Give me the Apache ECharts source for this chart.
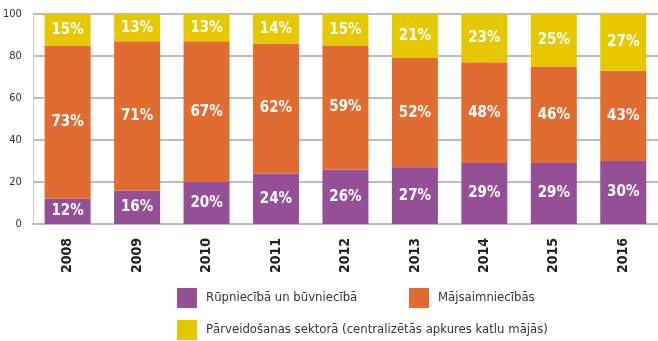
<!DOCTYPE html>
<html>
<head>
<meta charset="utf-8">
<script src="https://cdn.jsdelivr.net/npm/echarts@6/dist/echarts.min.js"></script>
<style>
  html, body { margin: 0; padding: 0; background: #fff; }
  #chart { width: 658px; height: 341px; }
</style>
</head>
<body>
<div id="chart"></div>
<script>
// Shares of consumption by sector, percent per year
const years = ['2008', '2009', '2010', '2011', '2012', '2013', '2014', '2015', '2016'];
const industry = [12, 16, 20, 24, 26, 27, 29, 29, 30];
const households = [73, 71, 67, 62, 59, 52, 48, 46, 43];
const transformation = [15, 13, 13, 14, 15, 21, 23, 25, 27];
const yTicks = [0, 20, 40, 60, 80, 100];

const names = [
  'Rūpniecībā un būvniecībā',
  'Mājsaimniecībās',
  'Pārveidošanas sektorā (centralizētās apkures katlu mājās)'
];
const colors = ['#944f97', '#e06c31', '#e6c800'];

const FONT = '"DejaVu Sans Condensed", "Liberation Sans Narrow", sans-serif';
const GRID = '#bcbcbc';

function series(name, data, color) {
  return {
    name: name,
    type: 'bar',
    stack: 'total',
    data: data,
    barWidth: 46,
    itemStyle: { color: color },
    label: {
      show: true,
      position: 'inside',
      formatter: '{c}%',
      color: '#fff',
      fontFamily: FONT,
      fontWeight: 'bold',
      fontSize: 15
    },
    emphasis: { disabled: true }
  };
}

function legendAt(name, left, top) {
  return {
    data: [name],
    left: left,
    top: top,
    padding: 0,
    icon: 'rect',
    itemWidth: 20,
    itemHeight: 20,
    selectedMode: false,
    textStyle: {
      fontFamily: FONT,
      fontSize: 13,
      color: '#333',
      padding: [0, 0, 0, 4]
    }
  };
}

const chart = echarts.init(document.getElementById('chart'), null, { renderer: 'canvas' });
chart.setOption({
  animation: false,
  backgroundColor: '#fff',
  grid: { left: 32, top: 14, width: 630, height: 210, containLabel: false },
  legend: [
    legendAt(names[0], 177, 288),
    legendAt(names[1], 409, 288),
    legendAt(names[2], 177, 320)
  ],
  xAxis: {
    type: 'category',
    data: years,
    axisLine: { show: true, lineStyle: { color: GRID, width: 2 } },
    axisTick: { show: false },
    axisLabel: {
      rotate: 90,
      margin: 14,
      color: '#222',
      fontFamily: FONT,
      fontWeight: 'bold',
      fontSize: 14
    }
  },
  yAxis: {
    type: 'value',
    min: yTicks[0],
    max: yTicks[yTicks.length - 1],
    interval: yTicks[1] - yTicks[0],
    axisLine: { show: true, lineStyle: { color: '#c8c8c8', width: 1 } },
    axisTick: { show: false },
    splitLine: { show: true, lineStyle: { color: GRID, width: 2 } },
    axisLabel: {
      margin: 11,
      color: '#333',
      fontFamily: FONT,
      fontSize: 11
    }
  },
  series: [
    series(names[0], industry, colors[0]),
    series(names[1], households, colors[1]),
    series(names[2], transformation, colors[2])
  ]
});
</script>
</body>
</html>
